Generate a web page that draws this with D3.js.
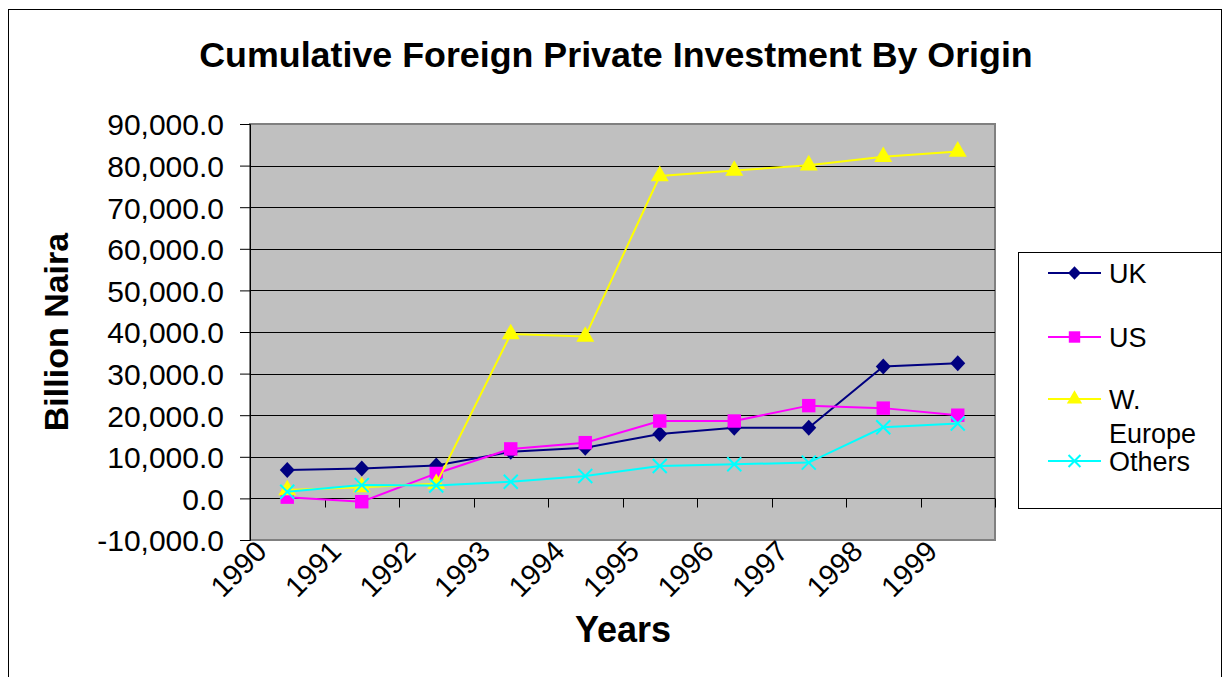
<!DOCTYPE html>
<html>
<head>
<meta charset="utf-8">
<script src="https://cdn.jsdelivr.net/npm/d3@7"></script>
<style>
  body { margin: 0; background: #fff; }
  svg { display: block; font-family: "Liberation Sans", Arial, sans-serif; }
</style>
</head>
<body>
<svg id="chart" width="1223" height="677"></svg>
<script>
const years = ["1990", "1991", "1992", "1993", "1994", "1995", "1996", "1997", "1998", "1999"];
const ukValues = [6800, 7200, 7900, 11200, 12200, 15500, 17000, 17000, 31700, 32500];
const usValues = [300, -800, 6000, 11900, 13400, 18600, 18600, 22300, 21700, 20000];
const weValues = [2000, 2700, 3500, 39500, 38900, 77500, 78800, 80100, 82100, 83400];
const othersValues = [1600, 3200, 3100, 4000, 5400, 7800, 8200, 8600, 17100, 18000];
const yTicks = [-10000, 0, 10000, 20000, 30000, 40000, 50000, 60000, 70000, 80000, 90000];

const series = [
  { name: "UK", values: ukValues, color: "#000080", symbol: "diamond", size: 0 },
  { name: "US", values: usValues, color: "#FF00FF", symbol: d3.symbolSquare, size: 180 },
  { name: "W. Europe", values: weValues, color: "#FFFF00", symbol: d3.symbolTriangle, size: 140 },
  { name: "Others", values: othersValues, color: "#00FFFF", symbol: "cross", size: 0 },
];

const svg = d3.select("#chart");
const margin = { top: 124, left: 250, right: 995, bottom: 540 };

// outer chart frame
svg.append("rect")
  .attr("x", 8.5).attr("y", 9.5)
  .attr("width", 1213).attr("height", 700)
  .attr("fill", "#fff").attr("stroke", "#000").attr("stroke-width", 1);

const x = d3.scaleBand().domain(years).range([margin.left, margin.right]);
const y = d3.scaleLinear().domain([-10000, 90000]).range([margin.bottom, margin.top]);

const locale = d3.formatLocale({ decimal: ".", thousands: ",", grouping: [3], currency: ["", ""], minus: "-" });
const fmt = locale.format(",.1f");

// plot area
svg.append("rect")
  .attr("x", margin.left).attr("y", margin.top)
  .attr("width", margin.right - margin.left).attr("height", margin.bottom - margin.top)
  .attr("fill", "#C0C0C0").attr("stroke", "#808080").attr("stroke-width", 2);

// gridlines
svg.append("g")
  .selectAll("line")
  .data(yTicks.filter(d => d > -10000 && d < 90000))
  .enter()
  .append("line")
  .attr("x1", margin.left).attr("x2", margin.right)
  .attr("y1", d => Math.round(y(d)) + 0.5).attr("y2", d => Math.round(y(d)) + 0.5)
  .attr("stroke", "#000").attr("stroke-width", 1);

// y axis
const yAxis = d3.axisLeft(y).tickValues(yTicks).tickSize(10).tickFormat(fmt);
const gy = svg.append("g").attr("transform", "translate(" + margin.left + ",0)").call(yAxis);
gy.select(".domain").attr("stroke", "#000");
gy.selectAll(".tick line").attr("stroke", "#000");
gy.selectAll(".tick text")
  .attr("font-size", 30).attr("fill", "#000").attr("x", -26).attr("dy", "0.36em");

// x axis crossing at zero
const gx = svg.append("g").attr("transform", "translate(0," + (Math.round(y(0)) + 0.5) + ")");
gx.append("line").attr("x1", margin.left).attr("x2", margin.right).attr("stroke", "#000");
gx.selectAll(".xtick")
  .data(years)
  .enter()
  .append("line")
  .attr("x1", (d, i) => Math.round(margin.left + x.step() * (i + 1)) + 0.5)
  .attr("x2", (d, i) => Math.round(margin.left + x.step() * (i + 1)) + 0.5)
  .attr("y1", 0).attr("y2", 9)
  .attr("stroke", "#000");

// category labels below the plot, rotated
svg.append("g")
  .selectAll("text")
  .data(years)
  .enter()
  .append("text")
  .attr("transform", d => "translate(" + (x(d) + x.bandwidth() / 2 - 26) + "," + (margin.bottom + 6) + ") rotate(-45)")
  .attr("text-anchor", "end")
  .attr("dy", "0.35em")
  .attr("font-size", 29)
  .text(d => d);

// lines and markers
const line = d3.line()
  .x((d, i) => x(years[i]) + x.bandwidth() / 2)
  .y(d => y(d));

function drawMarker(g, s, cx, cy, k) {
  k = k || 1;
  if (s.symbol === "cross") {
    const r = 7 * k;
    g.append("path")
      .attr("d", "M" + (cx - r) + "," + (cy - r) + "L" + (cx + r) + "," + (cy + r) +
        "M" + (cx + r) + "," + (cy - r) + "L" + (cx - r) + "," + (cy + r))
      .attr("stroke", s.color).attr("stroke-width", 2).attr("fill", "none");
  } else if (s.symbol === "diamond") {
    const w = 7.5 * k, h = 8 * k;
    g.append("path")
      .attr("d", "M" + cx + "," + (cy - h) + "L" + (cx + w) + "," + cy + "L" + cx + "," + (cy + h) + "L" + (cx - w) + "," + cy + "Z")
      .attr("fill", s.color);
  } else {
    g.append("path")
      .attr("d", d3.symbol().type(s.symbol).size(s.size * k * k)())
      .attr("transform", "translate(" + cx + "," + cy + ")")
      .attr("fill", s.color);
  }
}

series.forEach(s => {
  const g = svg.append("g");
  g.append("path")
    .attr("d", line(s.values))
    .attr("fill", "none").attr("stroke", s.color).attr("stroke-width", 2);
  s.values.forEach((v, i) => drawMarker(g, s, x(years[i]) + x.bandwidth() / 2, y(v)));
});

// title and axis titles
svg.append("text")
  .attr("x", 616).attr("y", 67)
  .attr("text-anchor", "middle").attr("font-size", 35.8).attr("font-weight", "bold")
  .text("Cumulative Foreign Private Investment By Origin");

svg.append("text")
  .attr("x", 623).attr("y", 642)
  .attr("text-anchor", "middle").attr("font-size", 36).attr("font-weight", "bold")
  .text("Years");

svg.append("text")
  .attr("transform", "translate(68,332) rotate(-90)")
  .attr("text-anchor", "middle").attr("font-size", 34).attr("font-weight", "bold")
  .text("Billion Naira");

// legend
const legend = svg.append("g");
legend.append("rect")
  .attr("x", 1018.5).attr("y", 252.5).attr("width", 203).attr("height", 256)
  .attr("fill", "#fff").attr("stroke", "#000");
const legendY = [273, 337, 399, 461];
series.forEach((s, i) => {
  const ly = legendY[i];
  legend.append("line")
    .attr("x1", 1048).attr("x2", 1101).attr("y1", ly).attr("y2", ly)
    .attr("stroke", s.color).attr("stroke-width", 2);
  drawMarker(legend, s, 1074.5, ly, 0.85);
});
const legendText = [["UK", 273], ["US", 337], ["W.", 399], ["Europe", 433], ["Others", 461]];
legend.selectAll(".lt")
  .data(legendText)
  .enter()
  .append("text")
  .attr("x", 1109).attr("y", d => d[1]).attr("dy", "0.36em")
  .attr("font-size", 27)
  .text(d => d[0]);
</script>
</body>
</html>
